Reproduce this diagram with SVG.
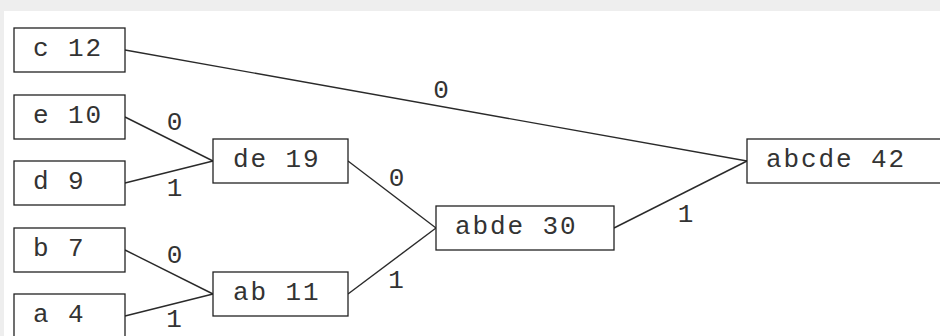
<svg xmlns="http://www.w3.org/2000/svg" width="940" height="336" viewBox="0 0 940 336">
  <style>
    .node rect { fill: #ffffff; stroke: #222222; stroke-width: 1.3; }
    .node text { font-family: "Liberation Mono", "Courier New", monospace; font-size: 26px; letter-spacing: 1.9px; fill: #333333; }
    .edge line { stroke: #2a2a2a; stroke-width: 1.4; }
    .edge text { font-family: "Liberation Mono", "Courier New", monospace; font-size: 26px; fill: #333333; text-anchor: middle; }
  </style>
  <!-- page background with white canvas -->
  <rect x="0" y="0" width="940" height="336" fill="#eeeeee"/>
  <rect x="4" y="11" width="936" height="325" fill="#ffffff"/>

  <!-- Huffman tree connectors with bit labels -->
  <g id="connectors" class="edge">
    <line x1="125" y1="50" x2="747" y2="161"/>
    <text x="441" y="98">0</text>
    <line x1="125" y1="117" x2="213" y2="161"/>
    <text x="174.5" y="130">0</text>
    <line x1="125" y1="183" x2="213" y2="161"/>
    <text x="174.5" y="196">1</text>
    <line x1="125" y1="250" x2="213" y2="294"/>
    <text x="174.5" y="263">0</text>
    <line x1="125" y1="316" x2="213" y2="294"/>
    <text x="174" y="327">1</text>
    <line x1="348" y1="161" x2="436" y2="228"/>
    <text x="396.5" y="186">0</text>
    <line x1="348" y1="294" x2="436" y2="228"/>
    <text x="396" y="288">1</text>
    <line x1="614" y1="228" x2="747" y2="161"/>
    <text x="685.5" y="222">1</text>
  </g>

  <!-- leaves -->
  <g id="node-c" class="node"><rect x="14" y="28" width="111" height="44"/><text x="33" y="56">c 12</text></g>
  <g id="node-e" class="node"><rect x="14" y="95" width="111" height="44"/><text x="33" y="123">e 10</text></g>
  <g id="node-d" class="node"><rect x="14" y="161" width="111" height="44"/><text x="33" y="189">d 9</text></g>
  <g id="node-b" class="node"><rect x="14" y="228" width="111" height="44"/><text x="33" y="256">b 7</text></g>
  <g id="node-a" class="node"><rect x="14" y="294" width="111" height="44"/><text x="33" y="322">a 4</text></g>

  <!-- internal nodes -->
  <g id="node-de" class="node"><rect x="213" y="139" width="135" height="44"/><text x="233" y="167">de 19</text></g>
  <g id="node-ab" class="node"><rect x="213" y="272" width="135" height="44"/><text x="233" y="300">ab 11</text></g>
  <g id="node-abde" class="node"><rect x="436" y="206" width="178" height="44"/><text x="455" y="234">abde 30</text></g>
  <g id="node-abcde" class="node"><rect x="747" y="139" width="200" height="44"/><text x="766" y="167">abcde 42</text></g>
</svg>
